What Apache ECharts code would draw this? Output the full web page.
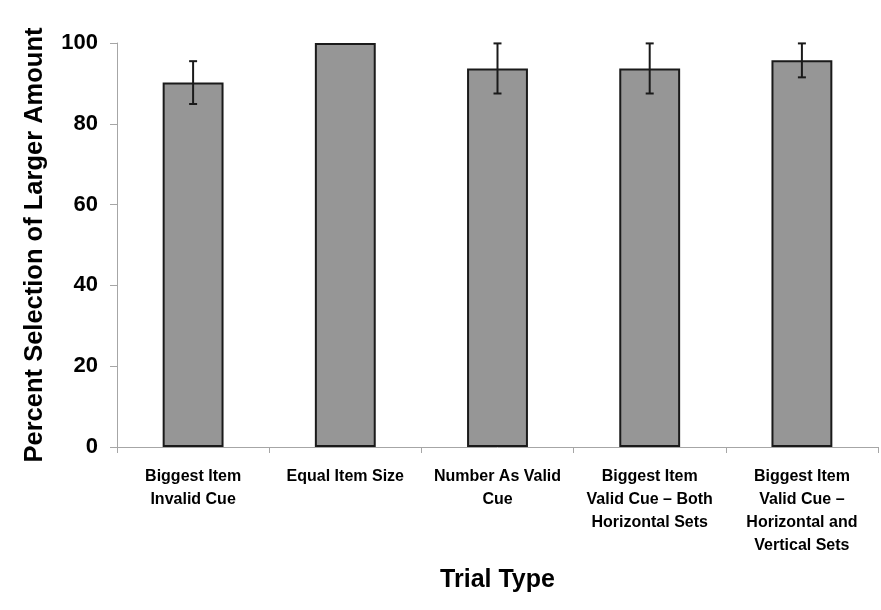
<!DOCTYPE html>
<html>
<head>
<meta charset="utf-8">
<script src="https://cdn.jsdelivr.net/npm/echarts@6/dist/echarts.min.js"></script>
<style>
  html, body { margin: 0; padding: 0; background: #fff; }
  #chart { width: 881px; height: 610px; }
</style>
</head>
<body>
<div id="chart"></div>
<script>
var categories = [
    'Biggest Item\nInvalid Cue',
    'Equal Item Size',
    'Number As Valid\nCue',
    'Biggest Item\nValid Cue \u2013 Both\nHorizontal Sets',
    'Biggest Item\nValid Cue \u2013\nHorizontal and\nVertical Sets'
];
var percentValues = [90.2, 100, 93.7, 93.7, 95.7];
var errorValues = [5.3, 0, 6.2, 6.2, 4.2];
var yTicks = [0, 20, 40, 60, 80, 100];

var FONT = '"Liberation Sans", Arial, sans-serif';

var chartApp = {
    chart: null,
    init: function () {
        this.chart = echarts.init(document.getElementById('chart'));
        this.chart.setOption(this.buildOption());
    },
    buildErrorData: function () {
        var out = [];
        for (var i = 0; i < percentValues.length; i++) {
            if (errorValues[i] > 0) {
                out.push([i, percentValues[i] - errorValues[i], percentValues[i] + errorValues[i]]);
            }
        }
        return out;
    },
    buildOption: function () {
        return {
            animation: false,
            backgroundColor: '#ffffff',
            grid: { left: 117, right: 3, top: 43, bottom: 163 },
            xAxis: {
                type: 'category',
                data: categories,
                name: 'Trial Type',
                nameLocation: 'middle',
                nameGap: 121,
                nameTextStyle: { fontFamily: FONT, fontWeight: 'bold', fontSize: 25, color: '#000' },
                axisLine: { lineStyle: { color: '#a6a6a6', width: 1 } },
                axisTick: { show: true, length: 6, alignWithLabel: false, lineStyle: { color: '#a6a6a6' } },
                axisLabel: {
                    interval: 0,
                    margin: 18,
                    fontFamily: FONT,
                    fontWeight: 'bold',
                    fontSize: 16,
                    lineHeight: 23,
                    color: '#000'
                }
            },
            yAxis: {
                type: 'value',
                min: yTicks[0],
                max: yTicks[yTicks.length - 1],
                interval: 20,
                name: 'Percent Selection of Larger Amount',
                nameLocation: 'middle',
                nameGap: 69,
                nameTextStyle: { fontFamily: FONT, fontWeight: 'bold', fontSize: 25.5, color: '#000' },
                axisLine: { show: true, lineStyle: { color: '#a6a6a6', width: 1 } },
                axisTick: { show: true, inside: false, length: 7, lineStyle: { color: '#a6a6a6' } },
                splitLine: { show: false },
                axisLabel: {
                    margin: 19,
                    fontFamily: FONT,
                    fontWeight: 'bold',
                    fontSize: 22,
                    color: '#000'
                }
            },
            series: [
                {
                    type: 'bar',
                    data: percentValues,
                    barWidth: '40%',
                    itemStyle: { color: '#969696', borderColor: '#1a1a1a', borderWidth: 2 }
                },
                {
                    type: 'custom',
                    data: this.buildErrorData(),
                    z: 10,
                    renderItem: function (params, api) {
                        var x = api.value(0);
                        var lo = api.coord([x, api.value(1)]);
                        var hi = api.coord([x, api.value(2)]);
                        var half = 4;
                        var style = { stroke: '#1a1a1a', lineWidth: 2 };
                        return {
                            type: 'group',
                            children: [
                                { type: 'line', shape: { x1: hi[0], y1: hi[1], x2: lo[0], y2: lo[1] }, style: style },
                                { type: 'line', shape: { x1: hi[0] - half, y1: hi[1], x2: hi[0] + half, y2: hi[1] }, style: style },
                                { type: 'line', shape: { x1: lo[0] - half, y1: lo[1], x2: lo[0] + half, y2: lo[1] }, style: style }
                            ]
                        };
                    }
                }
            ]
        };
    }
};

chartApp.init();
</script>
</body>
</html>
